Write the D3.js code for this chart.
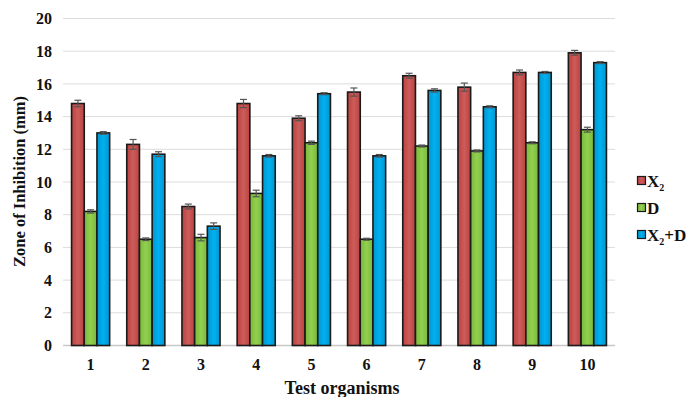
<!DOCTYPE html>
<html><head><meta charset="utf-8">
<script src="https://cdn.jsdelivr.net/npm/d3@7"></script>
<style>body{margin:0;background:#fff;} svg{display:block;font-family:"Liberation Serif","Times New Roman",serif;}</style>
</head><body>
<script>
const categories = ["1","2","3","4","5","6","7","8","9","10"];
const seriesNames = ["X2","D","X2+D"];
const x2Values  = [14.8, 12.3, 8.5, 14.8, 13.9, 15.5, 16.5, 15.8, 16.7, 17.9];
const dValues   = [8.2, 6.5, 6.6, 9.3, 12.4, 6.5, 12.2, 11.9, 12.4, 13.2];
const x2dValues = [13.0, 11.7, 7.3, 11.6, 15.4, 11.6, 15.6, 14.6, 16.7, 17.3];
const x2Err  = [0.2, 0.3, 0.15, 0.25, 0.15, 0.25, 0.15, 0.25, 0.15, 0.15];
const dErr   = [0.1, 0.08, 0.2, 0.2, 0.1, 0.06, 0.06, 0.06, 0.06, 0.15];
const x2dErr = [0.08, 0.15, 0.2, 0.08, 0.06, 0.08, 0.1, 0.06, 0.06, 0.06];
const yTicks = [0,2,4,6,8,10,12,14,16,18,20];
const colors = ["#cd5c5a", "#92d050", "#00b0f0"];
const darkColors = ["#b94340", "#7ab83a", "#0096d0"];

const W = 688, H = 397;
const margin = {left: 63, right: 73, top: 18.5, bottom: 51.5};
const svg = d3.select("body").append("svg").attr("width", W).attr("height", H);

const x0 = d3.scaleBand().domain(categories).range([margin.left, W - margin.right]).paddingInner(0.31).paddingOuter(0.155);
const x1 = d3.scaleBand().domain(seriesNames).range([0, x0.bandwidth()]).padding(0);
const y = d3.scaleLinear().domain([0, 20]).range([H - margin.bottom, margin.top]);

const defs = svg.append("defs");
seriesNames.forEach((s, i) => {
  const g = defs.append("linearGradient").attr("id", "g" + i).attr("x1", 0).attr("x2", 1).attr("y1", 0).attr("y2", 0);
  g.append("stop").attr("offset", "0%").attr("stop-color", darkColors[i]);
  g.append("stop").attr("offset", "50%").attr("stop-color", colors[i]);
  g.append("stop").attr("offset", "100%").attr("stop-color", darkColors[i]);
});

// grid
svg.append("g").selectAll("line").data(yTicks.filter(t => t > 0)).join("line")
  .attr("x1", margin.left).attr("x2", W - margin.right)
  .attr("y1", d => y(d)).attr("y2", d => y(d))
  .attr("stroke", "#dcdcdc").attr("stroke-width", 1);

// y axis
const yAxis = svg.append("g").attr("transform", `translate(${margin.left},0)`)
  .call(d3.axisLeft(y).tickValues(yTicks).tickSize(0).tickPadding(11));
yAxis.select(".domain").remove();
yAxis.selectAll("text").attr("font-family", "Liberation Serif").attr("font-weight", "bold").attr("font-size", 16).attr("fill", "#111");

// x axis
const xAxis = svg.append("g").attr("transform", `translate(0,${y(0)})`)
  .call(d3.axisBottom(x0).tickSize(0).tickPadding(13));
xAxis.select(".domain").attr("stroke", "#c8c8c8").attr("stroke-width", 1.5)
  .attr("d", `M${margin.left},0H${W - margin.right}`);
xAxis.selectAll("text").attr("font-family", "Liberation Serif").attr("font-weight", "bold").attr("font-size", 16).attr("fill", "#111");

const series = [x2Values, dValues, x2dValues];
const errs = [x2Err, dErr, x2dErr];
const data = [];
categories.forEach((c, ci) => seriesNames.forEach((s, si) => data.push({c, s, si, v: series[si][ci], e: errs[si][ci]})));

svg.append("g").selectAll("rect").data(data).join("rect")
  .attr("x", d => x0(d.c) + x1(d.s))
  .attr("y", d => y(d.v))
  .attr("width", x1.bandwidth())
  .attr("height", d => y(0) - y(d.v))
  .attr("fill", d => `url(#g${d.si})`)
  .attr("stroke", "#1a1a1a").attr("stroke-width", 1.6);

// error bars
const eg = svg.append("g").attr("stroke", "#555").attr("stroke-width", 1.2);
data.forEach(d => {
  const cx = x0(d.c) + x1(d.s) + x1.bandwidth() / 2;
  const y1 = y(d.v + d.e), y2 = y(d.v - d.e);
  eg.append("line").attr("x1", cx).attr("x2", cx).attr("y1", y1).attr("y2", y2);
  eg.append("line").attr("x1", cx - 3.5).attr("x2", cx + 3.5).attr("y1", y1).attr("y2", y1);
  eg.append("line").attr("x1", cx - 3.5).attr("x2", cx + 3.5).attr("y1", y2).attr("y2", y2);
});

// axis titles
svg.append("text").attr("transform", `translate(25,181.5) rotate(-90)`)
  .attr("text-anchor", "middle").attr("font-weight", "bold").attr("font-size", 16.5).attr("fill", "#111")
  .text("Zone of Inhibition (mm)");
svg.append("text").attr("x", 342).attr("y", 394)
  .attr("text-anchor", "middle").attr("font-weight", "bold").attr("font-size", 18).attr("fill", "#111")
  .text("Test organisms");

// legend
const legY = [181, 208, 235];
const leg = svg.append("g");
seriesNames.forEach((s, i) => {
  leg.append("rect").attr("x", 637.5).attr("y", legY[i] - 4.5).attr("width", 8).attr("height", 8)
    .attr("fill", `url(#g${i})`).attr("stroke", "#1a1a1a").attr("stroke-width", 1.2);
  const t = leg.append("text").attr("x", 647).attr("y", legY[i] + 5.5)
    .attr("font-weight", "bold").attr("font-size", 17).attr("fill", "#111");
  if (s === "X2") {
    t.append("tspan").text("X");
    t.append("tspan").attr("font-size", 10).attr("dy", 4).text("2");
  } else if (s === "D") {
    t.text("D");
  } else {
    t.append("tspan").text("X");
    t.append("tspan").attr("font-size", 10).attr("dy", 4).text("2");
    t.append("tspan").attr("dy", -4).text("+D");
  }
});
</script>
</body></html>
